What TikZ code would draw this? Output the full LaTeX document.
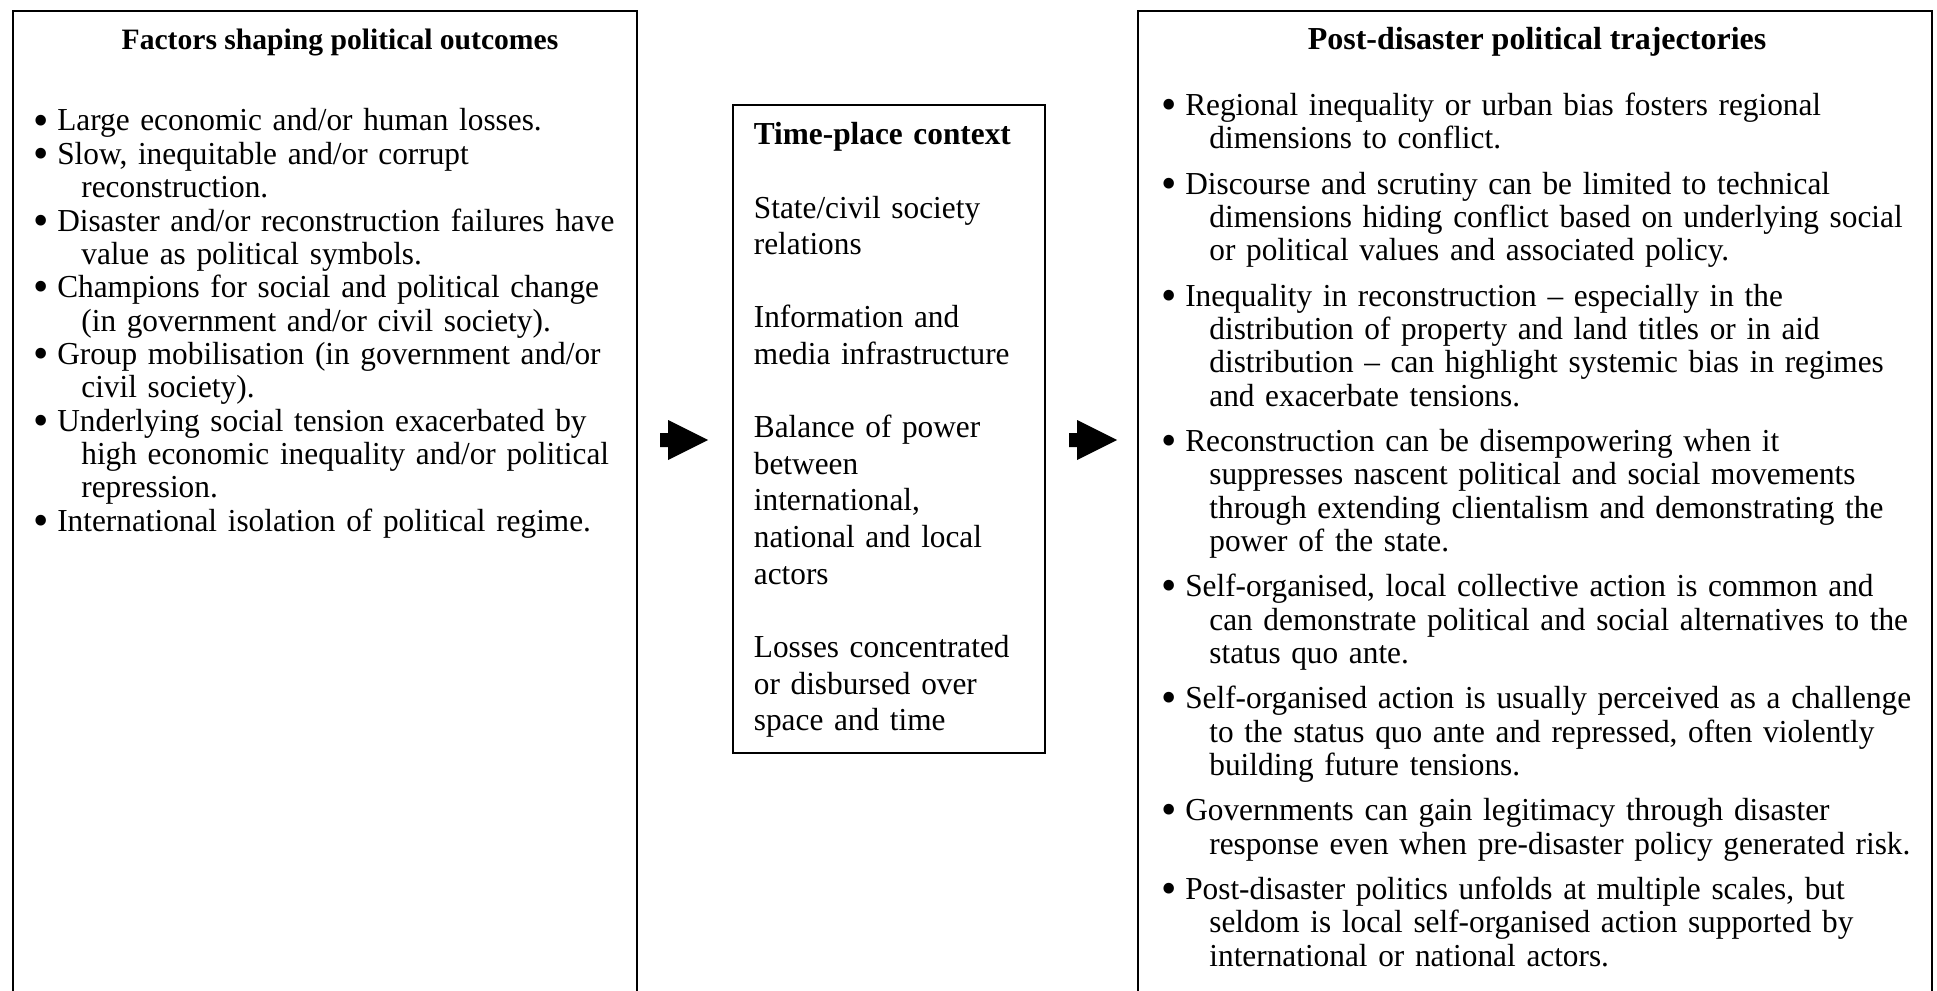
\documentclass[tikz,border=0pt]{standalone}
\usepackage{fontspec}
\setmainfont{Liberation Serif}
\newfontfamily\bodyfont{Liberation Serif}[FakeStretch=0.978]
\usetikzlibrary{calc, positioning}

% bullet with hanging continuation lines (set inside the paragraph)
\newcommand{\bigdot}{\makebox[0.35em][c]{\raisebox{-0.13em}{\scalebox{1.4}{\textbullet}}}}
\newcommand{\pitem}{\hangindent=23pt\hangafter=1\bigdot\ }

\begin{document}
\begin{tikzpicture}[x=0.5pt, y=-0.5pt]
  \tikzstyle{panel}=[draw=black, line width=0.8pt, anchor=north west, inner sep=0pt, fill=none]
  \tikzstyle{paneltitle}=[anchor=base, inner sep=0pt, font=\bfseries\fontsize{16}{16.68}\selectfont]
  \tikzstyle{bullets}=[anchor=base west, inner sep=0pt, align=left, font=\bodyfont\fontsize{16}{16.68}\selectfont]
  \tikzstyle{blockarrow}=[fill=black, draw=none]

  \useasboundingbox (0,0) rectangle (1937,990);

  % the three panels (the two outer ones run past the lower edge)
  \node[panel, minimum width=312pt, minimum height=500pt] (factors) at (12,10) {};
  \node[panel, minimum width=156pt, minimum height=324pt] (context) at (732,104) {};
  \node[panel, minimum width=397pt, minimum height=500pt] (trajectories) at (1137,10) {};

  % titles
  \node[paneltitle, font=\bfseries\fontsize{14.8}{16.68}\selectfont] (factortitle) at (340,50) {Factors shaping political outcomes};
  \node[paneltitle] (trajtitle) at (1537,50) {Post-disaster political trajectories};

  % left panel
  \node[bullets, text width=300pt] (factorlist) at (35,131) {%
    \hyphenpenalty=10000
    \pitem Large economic and/or human losses.\par
    \pitem Slow, inequitable and/or corrupt\newline reconstruction.\par
    \pitem Disaster and/or reconstruction failures have\newline value as political symbols.\par
    \pitem Champions for social and political change\newline (in government and/or civil society).\par
    \pitem Group mobilisation (in government and/or\newline civil society).\par
    \pitem Underlying social tension exacerbated by\newline high economic inequality and/or political\newline repression.\par
    \pitem International isolation of political regime.\par};

  % middle panel
  \node[bullets, text width=140pt, font=\bodyfont\fontsize{16}{18.3}\selectfont] (contextlist) at (753.5,145) {%
    \setlength{\parskip}{18.3pt}%
    \textbf{Time-place context}\par
    State/civil society\newline relations\par
    Information and\newline media infrastructure\par
    Balance of power\newline between\newline international,\newline national and local\newline actors\par
    Losses concentrated\newline or disbursed over\newline space and time};

  % right panel
  \node[bullets, text width=400pt] (trajlist) at (1163,115.5) {%
    \setlength{\parskip}{5.95pt}\hyphenpenalty=10000
    \pitem Regional inequality or urban bias fosters regional\newline dimensions to conflict.\par
    \pitem Discourse and scrutiny can be limited to technical\newline dimensions hiding conflict based on underlying social\newline or political values and associated policy.\par
    \pitem Inequality in reconstruction \textendash{} especially in the\newline distribution of property and land titles or in aid\newline distribution \textendash{} can highlight systemic bias in regimes\newline and exacerbate tensions.\par
    \pitem Reconstruction can be disempowering when it\newline suppresses nascent political and social movements\newline through extending clientalism and demonstrating the\newline power of the state.\par
    \pitem Self-organised, local collective action is common and\newline can demonstrate political and social alternatives to the\newline status quo ante.\par
    \pitem Self-organised action is usually perceived as a challenge\newline to the status quo ante and repressed, often violently\newline building future tensions.\par
    \pitem Governments can gain legitimacy through disaster\newline response even when pre-disaster policy generated risk.\par
    \pitem Post-disaster politics unfolds at multiple scales, but\newline seldom is local self-organised action supported by\newline international or national actors.\par};

  % block arrows between the panels
  \coordinate (arrowA) at (660,440);
  \coordinate (arrowB) at (1069,440);
  \foreach \a in {arrowA, arrowB}
    \fill[blockarrow] (\a) ++(0,-7) -- ++(8,0) -- ++(0,-13) -- ++(40,20) -- ++(-40,20) -- ++(0,-13) -- ++(-8,0) -- cycle;
\end{tikzpicture}
\end{document}
